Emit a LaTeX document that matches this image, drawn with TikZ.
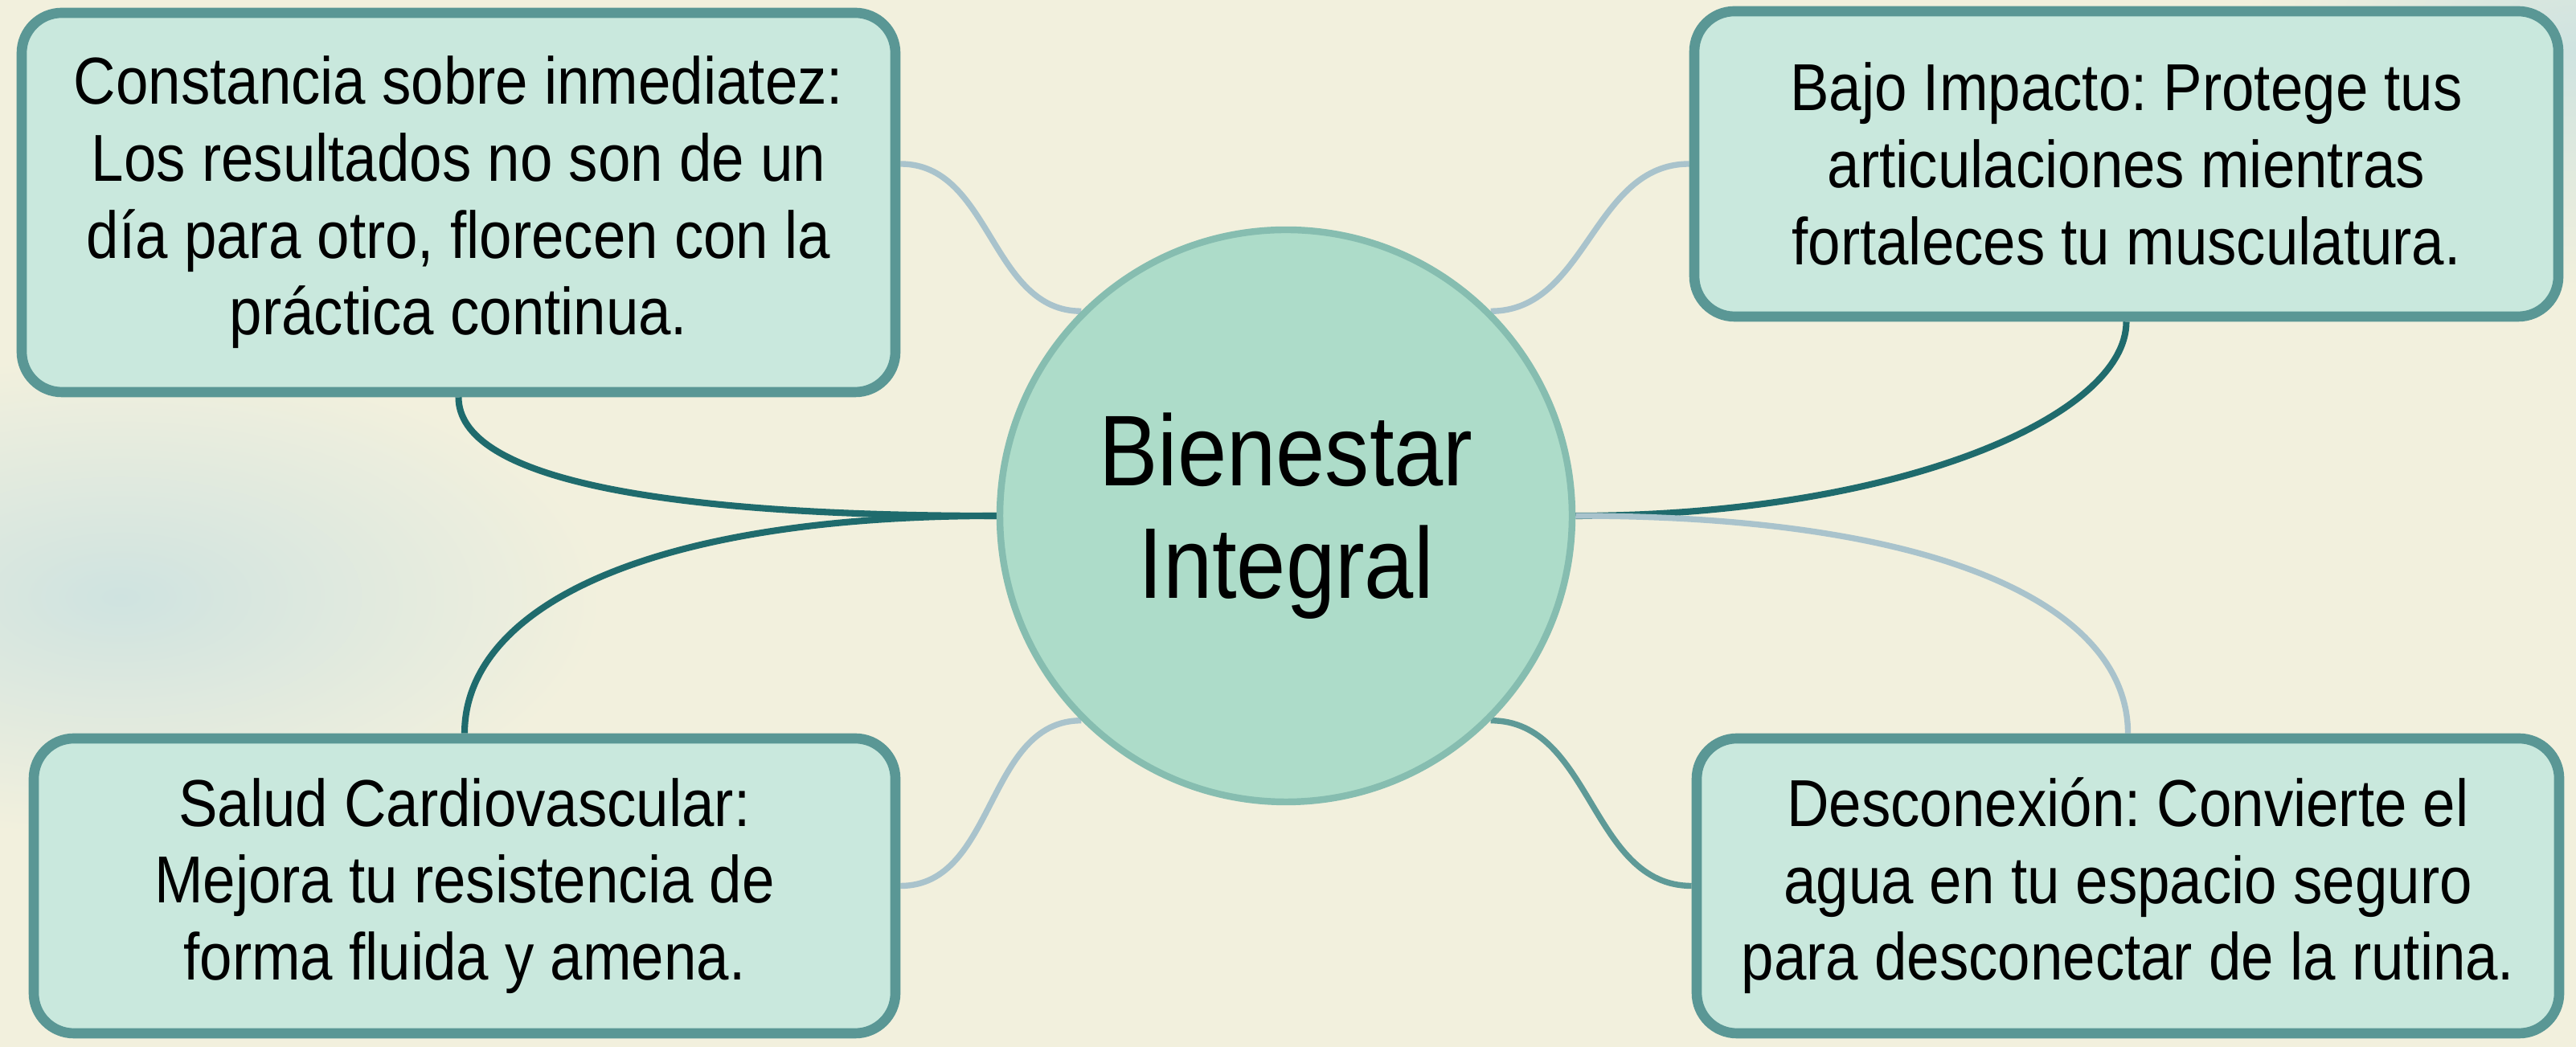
\documentclass[tikz,border=0pt]{standalone}
\usepackage{fontspec}
\setmainfont[FakeStretch=0.88]{Liberation Sans}
\usetikzlibrary{backgrounds}
\definecolor{paper}{HTML}{F2F0DD}
\definecolor{wash}{HTML}{CFE3E0}
\definecolor{cardfill}{HTML}{C9E8DD}
\definecolor{cardline}{HTML}{5A9795}
\definecolor{hubfill}{HTML}{ADDCC9}
\definecolor{hubline}{HTML}{86BDB0}
\definecolor{darkteal}{HTML}{1F6B6D}
\definecolor{midteal}{HTML}{5E9A97}
\definecolor{pale}{HTML}{A9C3CC}
\tikzset{card/.style = {rectangle, rounded corners=5mm, line width=3.6pt, draw=cardline,
                        fill=cardfill, align=center, inner sep=0pt,
                        font=\fontsize{23.5}{27.2}\selectfont},
         hub/.style  = {circle, line width=2.4pt, draw=hubline, fill=hubfill, align=center,
                        minimum size=7.12cm, inner sep=0pt,
                        font=\fontsize{35.6}{39.7}\selectfont},
         dk/.style   = {line width=2.3pt, draw=darkteal},
         md/.style   = {line width=2.1pt, draw=midteal},
         lt/.style   = {line width=2.1pt, draw=pale},
         blob/.style = {inner color=wash, outer color=paper}}
\frenchspacing

\begin{document}
\begin{tikzpicture}
    \useasboundingbox (0,0) rectangle (32.05,13.03);
    \node[hub] (h) at (16.0,6.61) {Bienestar\\Integral};
    \node[card, minimum width=10.87cm, minimum height=4.72cm] (tl) at (5.705,10.51)
        {Constancia sobre inmediatez:\\Los resultados no son de un\\día para otro, florecen con la\\práctica continua.};
    \node[card, minimum width=10.75cm, minimum height=3.80cm] (tr) at (26.455,10.99)
        {Bajo Impacto: Protege tus\\articulaciones mientras\\fortaleces tu musculatura.};
    \node[card, minimum width=10.72cm, minimum height=3.67cm] (bl) at (5.78,2.005)
        {Salud Cardiovascular:\\Mejora tu resistencia de\\forma fluida y amena.};
    \node[card, minimum width=10.73cm, minimum height=3.67cm] (br) at (26.475,2.005)
        {Desconexión: Convierte el\\agua en tu espacio seguro\\para desconectar de la rutina.};
    \coordinate (tlr) at ([yshift=4.8mm]tl.east);
    \begin{scope}[on background layer]
    \fill[paper] (0,0) rectangle (32.05,13.03);
    % watercolour wash
    \shade[blob] (1.5,5.6) ellipse (6cm and 3cm);
    \shade[blob] (32.0,12.4) ellipse (4cm and 3cm);
    % main branches
    \draw[dk] (h.west) to[out=180, in=-90, out looseness=1.6, in looseness=0.37] (tl.south);
    \draw[dk] (h.west) to[out=180, in=90, out looseness=1.6, in looseness=0.54] (bl.north);
    \draw[dk] (h.east) to[out=0, in=-90, out looseness=1.4, in looseness=0.42] (tr.south);
    \draw[lt] (h.east) to[out=0, in=90, out looseness=1.6, in looseness=0.54] (br.north);
    % side branches
    \draw[lt] (h.135) to[out=180, in=0] (tlr);
    \draw[lt] (h.45) to[out=0, in=180] (tr.west);
    \draw[lt] (h.225) to[out=180, in=0] (bl.east);
    \draw[md] (h.315) to[out=0, in=180] (br.west);
    \end{scope}
\end{tikzpicture}
\end{document}
